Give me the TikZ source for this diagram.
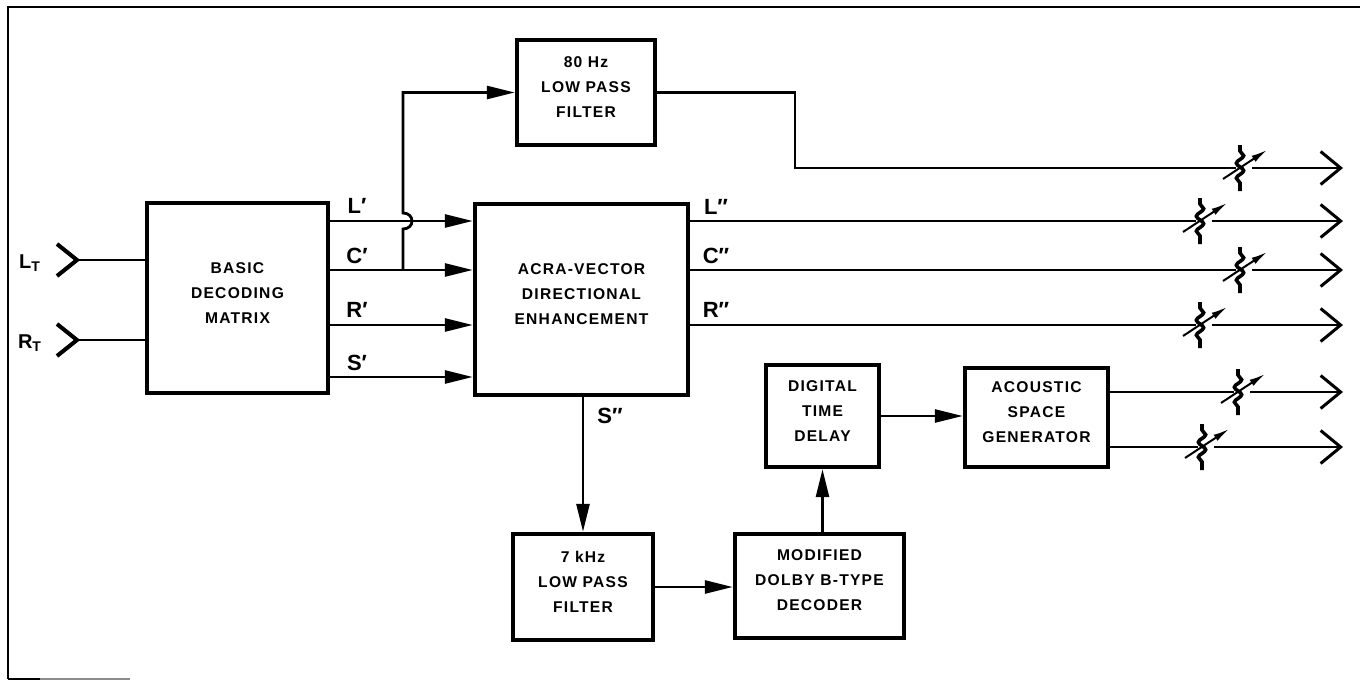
\documentclass[tikz,border=0pt]{standalone}
\usepackage{fontspec}
\setmainfont{Liberation Sans}
\newfontfamily\boxfont[LetterSpace=8]{Liberation Sans}
\usetikzlibrary{arrows.meta,fit,decorations.pathmorphing,calc}
\tikzset{
  box/.style={draw, line width=2.2pt, inner sep=0pt, align=center,
    font=\boxfont\bfseries\fontsize{7.8}{12.5}\selectfont},
  wire/.style={line width=1.4pt},
  arr/.style={wire, -{Triangle[length=14pt,width=6.5pt]}},
  outarr/.style={wire, -{Straight Barb[length=10pt,width=16.5pt,line width=1.5pt]}},
  sig/.style={font=\bfseries\fontsize{11}{12}\selectfont, inner sep=0pt},
  insig/.style={font=\bfseries\fontsize{10}{10}\selectfont, inner sep=0pt},
  res/.pic={
    \draw[line width=1.8pt, decorate, decoration={snake, segment length=7.5pt, amplitude=1.8pt, pre length=3pt, post length=3pt}] (0,-23) -- (0,23);
    \draw[line width=1pt, -{Latex[length=8pt,width=3.6pt]}] (-17,11) -- (27,-18);
  }
}
\begin{document}
\begin{tikzpicture}[x=0.5pt,y=-0.5pt]
\useasboundingbox (0,0) rectangle (1360,680);
% frame
\draw[line width=1.1pt] (8,679) -- (8,7) -- (1360,7);
\draw[line width=1.1pt] (8,679) -- (40,679);
\draw[line width=0.6pt, black!45] (40,679) -- (130,679);

% boxes
\node[box, fit={(147,203) (328,393)}] (mat) {BASIC\\DECODING\\MATRIX};
\node[box, fit={(475,204) (688,395)}] (acra) {ACRA-VECTOR\\DIRECTIONAL\\ENHANCEMENT};
\node[box, fit={(517,40) (655,145)}] (f80) {80 Hz\\LOW PASS\\FILTER};
\node[box, fit={(513,534) (653,640)}] (f7) {7 kHz\\LOW PASS\\FILTER};
\node[box, fit={(735,534) (904,638)}] (dolby) {MODIFIED\\DOLBY B-TYPE\\DECODER};
\node[box, fit={(766,365) (879,467)}] (dtd) {DIGITAL\\TIME\\DELAY};
\node[box, fit={(965,368) (1108,467)}] (asg) {ACOUSTIC\\SPACE\\GENERATOR};

% inputs
\coordinate (inL) at (77,260);
\coordinate (inR) at (77,340);
\draw[line width=2pt] ($(inL)+(-20,-16)$) -- (inL) -- ($(inL)+(-20,16)$);
\draw[line width=2pt] ($(inR)+(-20,-16)$) -- (inR) -- ($(inR)+(-20,16)$);
\draw[wire] (inL) -- (mat.west |- inL);
\draw[wire] (inR) -- (mat.west |- inR);
\node[insig] (lt) at (30,263) {L\textsubscript{T}};
\node[insig] (rt) at (30,343) {R\textsubscript{T}};

% matrix -> acra
\coordinate (jC) at (403,270);
\draw[arr] (mat.east |- 0,221) -- (acra.west |- 0,221);
\draw[arr] (mat.east |- jC) -- (acra.west |- jC);
\draw[arr] (mat.east |- 0,325) -- (acra.west |- 0,325);
\draw[arr] (mat.east |- 0,377) -- (acra.west |- 0,377);
\node[sig] (lp) at (357,206) {L′};
\node[sig] (cp) at (357,256) {C′};
\node[sig] (rp) at (357,310) {R′};
\node[sig] (sp) at (357,363) {S′};

% branch to 80 Hz filter, hopping over L'
\coordinate (hopA) at (403,229);
\coordinate (hopB) at (403,213);
\draw[arr] (jC) -- (hopA) .. controls ($(hopA)+(12,0)$) and ($(hopB)+(12,0)$) .. (hopB) -- (jC |- f80.west) -- (f80.west);

% resistor positions and tips
\coordinate (r80) at (1240,168);
\coordinate (rL) at (1200,221);
\coordinate (rC) at (1240,270);
\coordinate (rR) at (1200,325);
\coordinate (rA) at (1238,392);
\coordinate (rB) at (1202,447);
\foreach \r in {r80,rL,rC,rR,rA,rB}{
  \coordinate (t\r) at (1343,0 |- \r);
  \draw[outarr] ($(\r)+(12,0)$) -- (t\r);
  \pic at (\r) {res};
}

% 80 Hz output
\coordinate (k80) at (795,168);
\draw[wire] (f80.east) -| (k80) -- ($(r80)+(-4,0)$);

% acra outputs
\draw[wire] (acra.east |- rL) -- ($(rL)+(-4,0)$);
\draw[wire] (acra.east |- rC) -- ($(rC)+(-4,0)$);
\draw[wire] (acra.east |- rR) -- ($(rR)+(-4,0)$);
\node[sig] (ldp) at (716,207) {L″};
\node[sig] (cdp) at (716,256) {C″};
\node[sig] (rdp) at (716,310) {R″};

% surround chain
\draw[arr] (f7.north |- acra.south) -- (f7.north);
\node[sig] (sdp) at (610,416) {S″};
\draw[arr] (f7.east) -- (f7.east -| dolby.west);
\draw[arr] (dtd.south |- dolby.north) -- (dtd.south);
\draw[arr] (dtd.east) -- (dtd.east -| asg.west);
\draw[wire] (asg.east |- rA) -- ($(rA)+(-4,0)$);
\draw[wire] (asg.east |- rB) -- ($(rB)+(-4,0)$);
\end{tikzpicture}
\end{document}
